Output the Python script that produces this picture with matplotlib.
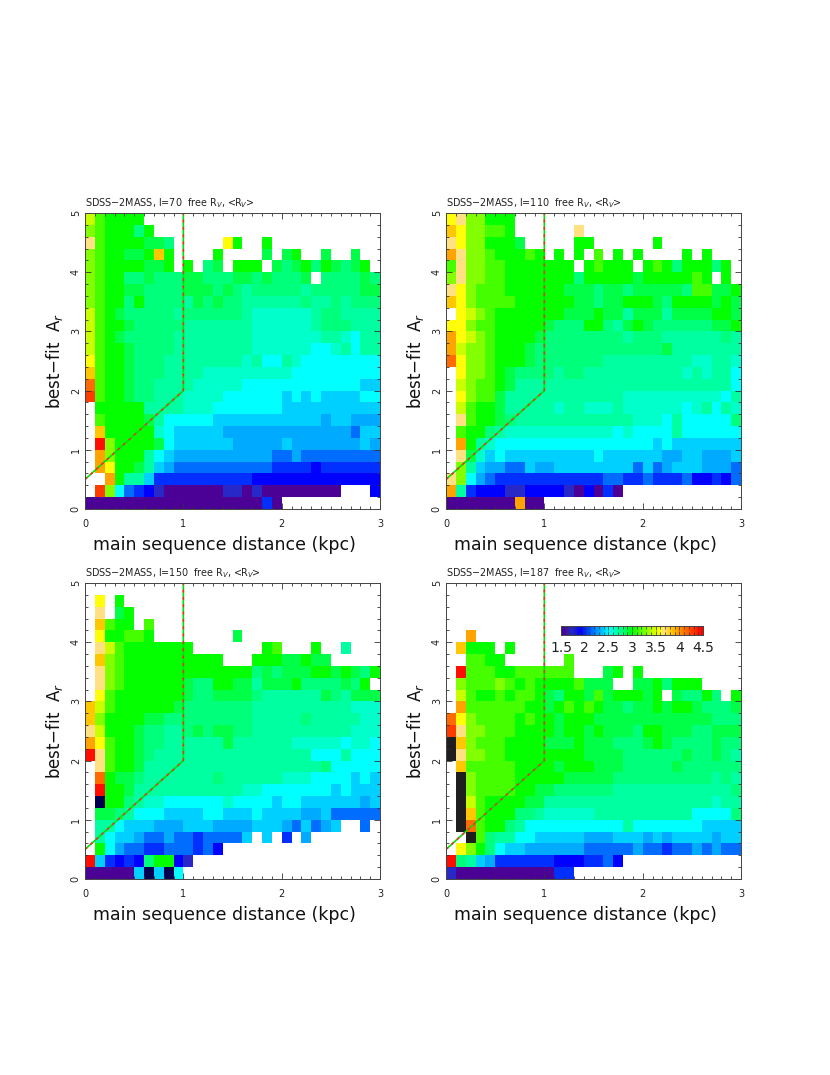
import numpy as np
import matplotlib
matplotlib.use('Agg')
import matplotlib.pyplot as plt
from matplotlib.colors import LinearSegmentedColormap
from matplotlib.ticker import MultipleLocator

# mean Rv per colour class, '.' is an empty bin
RV_LEVELS = {'a': 1.5, 'b': 1.7, 'c': 1.9, 'd': 2.0, 'e': 2.15, 'f': 2.3, 'g': 2.4,
             'h': 2.5, 'i': 2.6, 'j': 2.7, 'k': 2.8, 'l': 2.9, 'm': 3.0, 'n': 3.15,
             'o': 3.3, 'p': 3.45, 'q': 3.6, 'r': 3.7, 's': 3.85, 't': 3.95, 'u': 4.15,
             'v': 4.3, 'w': 4.45, 'x': 5.0, 'y': 1.0}

# rows run from A_r = 5 (top) down to 0, one char per 0.1 kpc, grouped in tens
L70_ROWS = [
    "pnmmmm",
    "onmmmkm",
    "rnmmmmllk. ....qm..m.",
    "onmmllmsm. ...m....l. lm..l..l..",
    "onmmmmllm. m.kl.mmm.l klmkmlklm.",
    "onmmkklkkk llkkkllklk kkl.kkkklk",
    "onmmllkkkk lllklkjkkk kkjkkkkkll",
    "onmmkmkkkk jlklkkjjjj jjkjjkjkkk",
    "pnmlkkkkkj kkkkkkjiii iiijkkjjjj",
    "pnmmlkkkkk jjjjjjjiii iiijkkkjjj",
    "pnmlkkkkkj jjjjjjjiii iiiijjihjj",
    "pnmmlkkkkj jjjjjjjiii iiihhijhjj",
    "qnmmlkkkjj jjjjjjijhh jihhhhhhhh",
    "snmmlkkkjj jjiiiiiiii ihhhhhhhhh",
    "unmmlkkjjj jiiiiihhhh hhhhhhhhgg",
    "vnmmlkkjjj iiiihhhhhh ghghgggghh",
    ".mmmmmjjjj iiihhhhhhh gggggggggg",
    ".nmmmmljhh hhhggggggg ggggfggfff",
    ".smmmmmihg ggggffffff fffffffegg",
    ".wommmmlhg gggggfffff gfffffffgf",
    ".tommmjhgf fffffffffe efeeeeeeee",
    ".tqmmljgfe eeeeeeeeed dddcdddddd",
    "..tmjjgddd dddddddccc cccccccccc",
    ".vohedcbaa aaaabbabaa aaaaaa...c",
    "aaaaaaaaaa aaaaaaaada",
]

L110_ROWS = [
    "qroommm",
    "sqoonnm... ...r",
    "rqoommml.. ...mm..... .m",
    "troonmmmnm .m.m.n.m.m ....m.m...",
    "nroonnmmmm mmm.mnmmm. mnmkmmmkm.",
    "oroonnmmmm mmmkmmmmml mmmmmnm.m.",
    "rqonnnmmmm mmlllkllkl llllknnllm",
    "sqonnnnmmm mmmllkllmm mlkmmmmlml",
    ".qponmmmmm mmlllmlljl lljllllmml",
    "qqonnmmmmm lkkkmmkjlm lkkkkkkllm",
    "tqponmmmml kkkkkkkkjk kkjjjjjjkj",
    "tpoonmmmlk kkkkkkkkkk kkljjjjjjj",
    "uqoonmmmlk kkkkkkjjjj jjjjjiijji",
    ".qoonmlkkk kjkkjjjjjj jjjjijijjh",
    ".ponnmljjj jjjjjjjjjj jjjjjjjjjh",
    ".qonnljjjj jjjjjjjjii iiiiiiiihj",
    ".pnmmljjjj jijjiiijii iiiihijhji",
    ".rnmmlkjjj jjjjjjjjji iihjhhhhhk",
    ".nmmkjiiii iiiiiiihih hhhjhhhhhh",
    ".tmjihhhhh hhhhhhhhhh hghggggggg",
    ".rlighgggg ggggghgggg ggffggfffg",
    ".ojgffeegf fgggggggge gefgggfffe",
    "rohfeddddd ddddddeedd edddeccdce",
    "tjdcccbbcc ccbacada..",
    "aaaaaaataa",
]

L150_ROWS = [
    "",
    ".q.m",
    ".r.lm",
    ".snmm.n",
    ".qmmnnm... .....l",
    ".rpnmmmmmm m.......mn ...m..j...",
    ".sonmmmmmm mmmm...mmm llmll.....",
    ".ronmmmmmm mmmmmmmklk lllmmlmlkm",
    ".ronmmmmmm lkkmmlljll lmkkkklkm.",
    ".qnmmmmmmm lkkllllkjj jjjjlkjlll",
    "spnmmmmmml kkkkkkkjjj jjjjjjjiii",
    "sommmmllkk kkkkkkkjjj jjkjjjjjii",
    "rpmmmlkkjj klkllkkjjj jjjjjjjiii",
    "tqnmmlkkjj jjjjljjjjj jiiiiihiih",
    "wrnmmlkjjj jjjjjjjjjj jjjhhhjhhh",
    ".rnmmljjjj jjjjjjjjjj jjjjkhhhhh",
    ".umllkjjjj jjjkjjjjjj iiihhhhghg",
    ".wmmljjjjj jjjjjjiihh hhhhhghggg",
    ".ymmkjiihh hhhhihhhhg hhggggggfg",
    ".llkjhhhgg gghhggghgg ggffgeeeee",
    ".jjhgggfff gggffffggg fegefg..e.",
    ".jhggfeefe edeeeeg.g. d.f.......",
    ".mhfeeddee edec",
    "wgdcdckmmc b",
    "aaaaagygyh",
]

L187_ROWS = [
    "",
    "",
    "",
    "",
    "..t",
    ".smmm.m",
    "..nnmm.... ..n",
    ".wnnnmmnnn nnn...lm.m",
    ".onnnonmnm mmmnlll..l lmkmmm",
    ".pnmmnmnnm lkmmlnlmmm lm.lkkmk.m",
    ".tnnnnnnmm lmnmnmllkl lmlmmlkkkl",
    "uqonnnnmnm mlmmmlllll lllllllkkk",
    "vroonnnmmm mlmmlmlllk mmlllkklll",
    "xsonnnmmmm lllmlllkkk lmlkkkklkk",
    "xroonnmmmm mmmmllllkk kkkklkklkj",
    ".snnnnnmmm mlmmmlllkk kkklkkkkkk",
    ".xonnnnmmm mmlllllkkk kkkkkkkjkj",
    ".xonnnnmml lkkkkkkjjj jjjjjjjjjk",
    ".xpnmmmmll jjjjjjjjjj jjjjjjjijj",
    ".xsnmmmkkj iiiiijjjjj jjjjjhhhhk",
    ".xunmmkjhh hhhhhhhhjh hhhhhhgggg",
    "..xnkjjhhg ggggfffggg fgfggggfgg",
    ".qomkhggff ffffeeeeef eedeefefee",
    "wkjgfddddd dcccddec",
    "baaaaaaaaa add",
]

PANEL_TITLES = ['l=70', 'l=110', 'l=150', 'l=187']
PANEL_ROWS = [L70_ROWS, L110_ROWS, L150_ROWS, L187_ROWS]
COLORBAR_TICKS = [1.5, 2, 2.5, 3, 3.5, 4, 4.5]
COLORBAR_LABELS = ['1.5', '2', '2.5', '3', '3.5', '4', '4.5']
BOUNDARY_X = [0, 1, 1]
BOUNDARY_Y = [0.5, 2, 5]

W, H = 830, 1075
N_COLS, N_ROWS = 30, 25


def decode(rows):
    grid = np.full((N_ROWS, N_COLS), np.nan)
    for i, row in enumerate(rows[::-1]):
        row = row.replace(' ', '')
        assert len(row) <= N_COLS, row
        for j, ch in enumerate(row):
            if ch != '.':
                grid[i, j] = RV_LEVELS[ch]
    return np.ma.masked_invalid(grid)


def px_axes(fig, left, top, right, bottom):
    return fig.add_axes([left / W, 1 - bottom / H, (right - left) / W, (bottom - top) / H])


nodes = [(1.5, '#4b0096'), (1.7, '#2828c8'), (1.9, '#0000ff'), (2.0, '#0032ff'),
         (2.15, '#006eff'), (2.3, '#00aaff'), (2.4, '#00d2ff'), (2.5, '#00ffff'),
         (2.6, '#00ffc8'), (2.7, '#00ffa0'), (2.8, '#00ff78'), (2.9, '#00ff46'),
         (3.0, '#00ff00'), (3.15, '#46ff00'), (3.3, '#82ff00'), (3.45, '#c8ff00'),
         (3.6, '#ffff00'), (3.7, '#ffe082'), (3.85, '#ffc800'), (3.95, '#ffa500'),
         (4.15, '#ff6e00'), (4.3, '#ff3c00'), (4.5, '#ff0000')]
rv_cmap = LinearSegmentedColormap.from_list(
    'rv', [((v - 1.5) / 3.0, c) for v, c in nodes], N=256)
rv_cmap.set_bad('white')
rv_cmap.set_over('#1e1e1e')
rv_cmap.set_under('#000050')

fig = plt.figure(figsize=(W / 100, H / 100), dpi=100)

boxes = [(85, 213, 380, 509), (446, 213, 741, 509),
         (85, 583, 380, 879), (446, 583, 741, 879)]
x_edges = np.linspace(0, 3, N_COLS + 1)
y_edges = np.linspace(0, 5, N_ROWS + 1)

for box, name, rows in zip(boxes, PANEL_TITLES, PANEL_ROWS):
    ax = px_axes(fig, *box)
    ax.pcolormesh(x_edges, y_edges, decode(rows), cmap=rv_cmap, vmin=1.5, vmax=4.5,
                  antialiased=False)
    ax.plot(BOUNDARY_X, BOUNDARY_Y, color='#00e000', lw=1.2)
    ax.plot(BOUNDARY_X, BOUNDARY_Y, color='#f03030', lw=1.2, dashes=(1.7, 2.7))
    ax.set_xlim(0, 3)
    ax.set_ylim(0, 5)
    ax.xaxis.set_major_locator(MultipleLocator(1))
    ax.xaxis.set_minor_locator(MultipleLocator(0.1))
    ax.yaxis.set_major_locator(MultipleLocator(1))
    ax.yaxis.set_minor_locator(MultipleLocator(0.2))
    ax.tick_params(which='both', direction='in', top=True, right=True,
                   color='#333333', width=0.6)
    ax.tick_params(which='major', length=4, labelsize=7, labelcolor='#222222')
    ax.tick_params(axis='x', which='major', pad=7)
    ax.tick_params(axis='y', which='major', pad=3)
    ax.tick_params(which='minor', length=2)
    plt.setp(ax.get_yticklabels(), rotation=90, va='center')
    for s in ax.spines.values():
        s.set_linewidth(0.7)
        s.set_color('#444444')
    ax.set_xlabel('main sequence distance (kpc)', fontsize=12.5, labelpad=5, x=0.473,
                  color='#111111')
    ax.set_ylabel('best$-$fit  A$_r$', fontsize=12, color='#111111')
    ax.yaxis.set_label_coords(-0.068, 0.5)
    ax.set_title('SDSS$-$2MASS, %s  free R$_V$, <R$_V$>' % name, fontsize=6.9,
                 loc='left', pad=5, color='#222222')

# colour bar inside the l=187 panel
cax = px_axes(fig, 561, 626, 703, 635)
cax.imshow(np.linspace(1.5, 4.5, 60)[None, :], extent=[1.5, 4.5, 0, 1], aspect='auto',
           cmap=rv_cmap, vmin=1.5, vmax=4.5)
cax.set_yticks([])
cax.set_xticks(COLORBAR_TICKS)
cax.set_xticklabels(COLORBAR_LABELS, fontsize=10, color='#222222')
cax.xaxis.set_minor_locator(MultipleLocator(0.1))
cax.tick_params(which='both', direction='in', top=True, color='#333333', width=0.5)
cax.tick_params(which='major', length=3, pad=4)
cax.tick_params(which='minor', length=2)
for s in cax.spines.values():
    s.set_linewidth(0.7)
    s.set_color('#444444')

fig.savefig('out.png', dpi=100, facecolor='white')
